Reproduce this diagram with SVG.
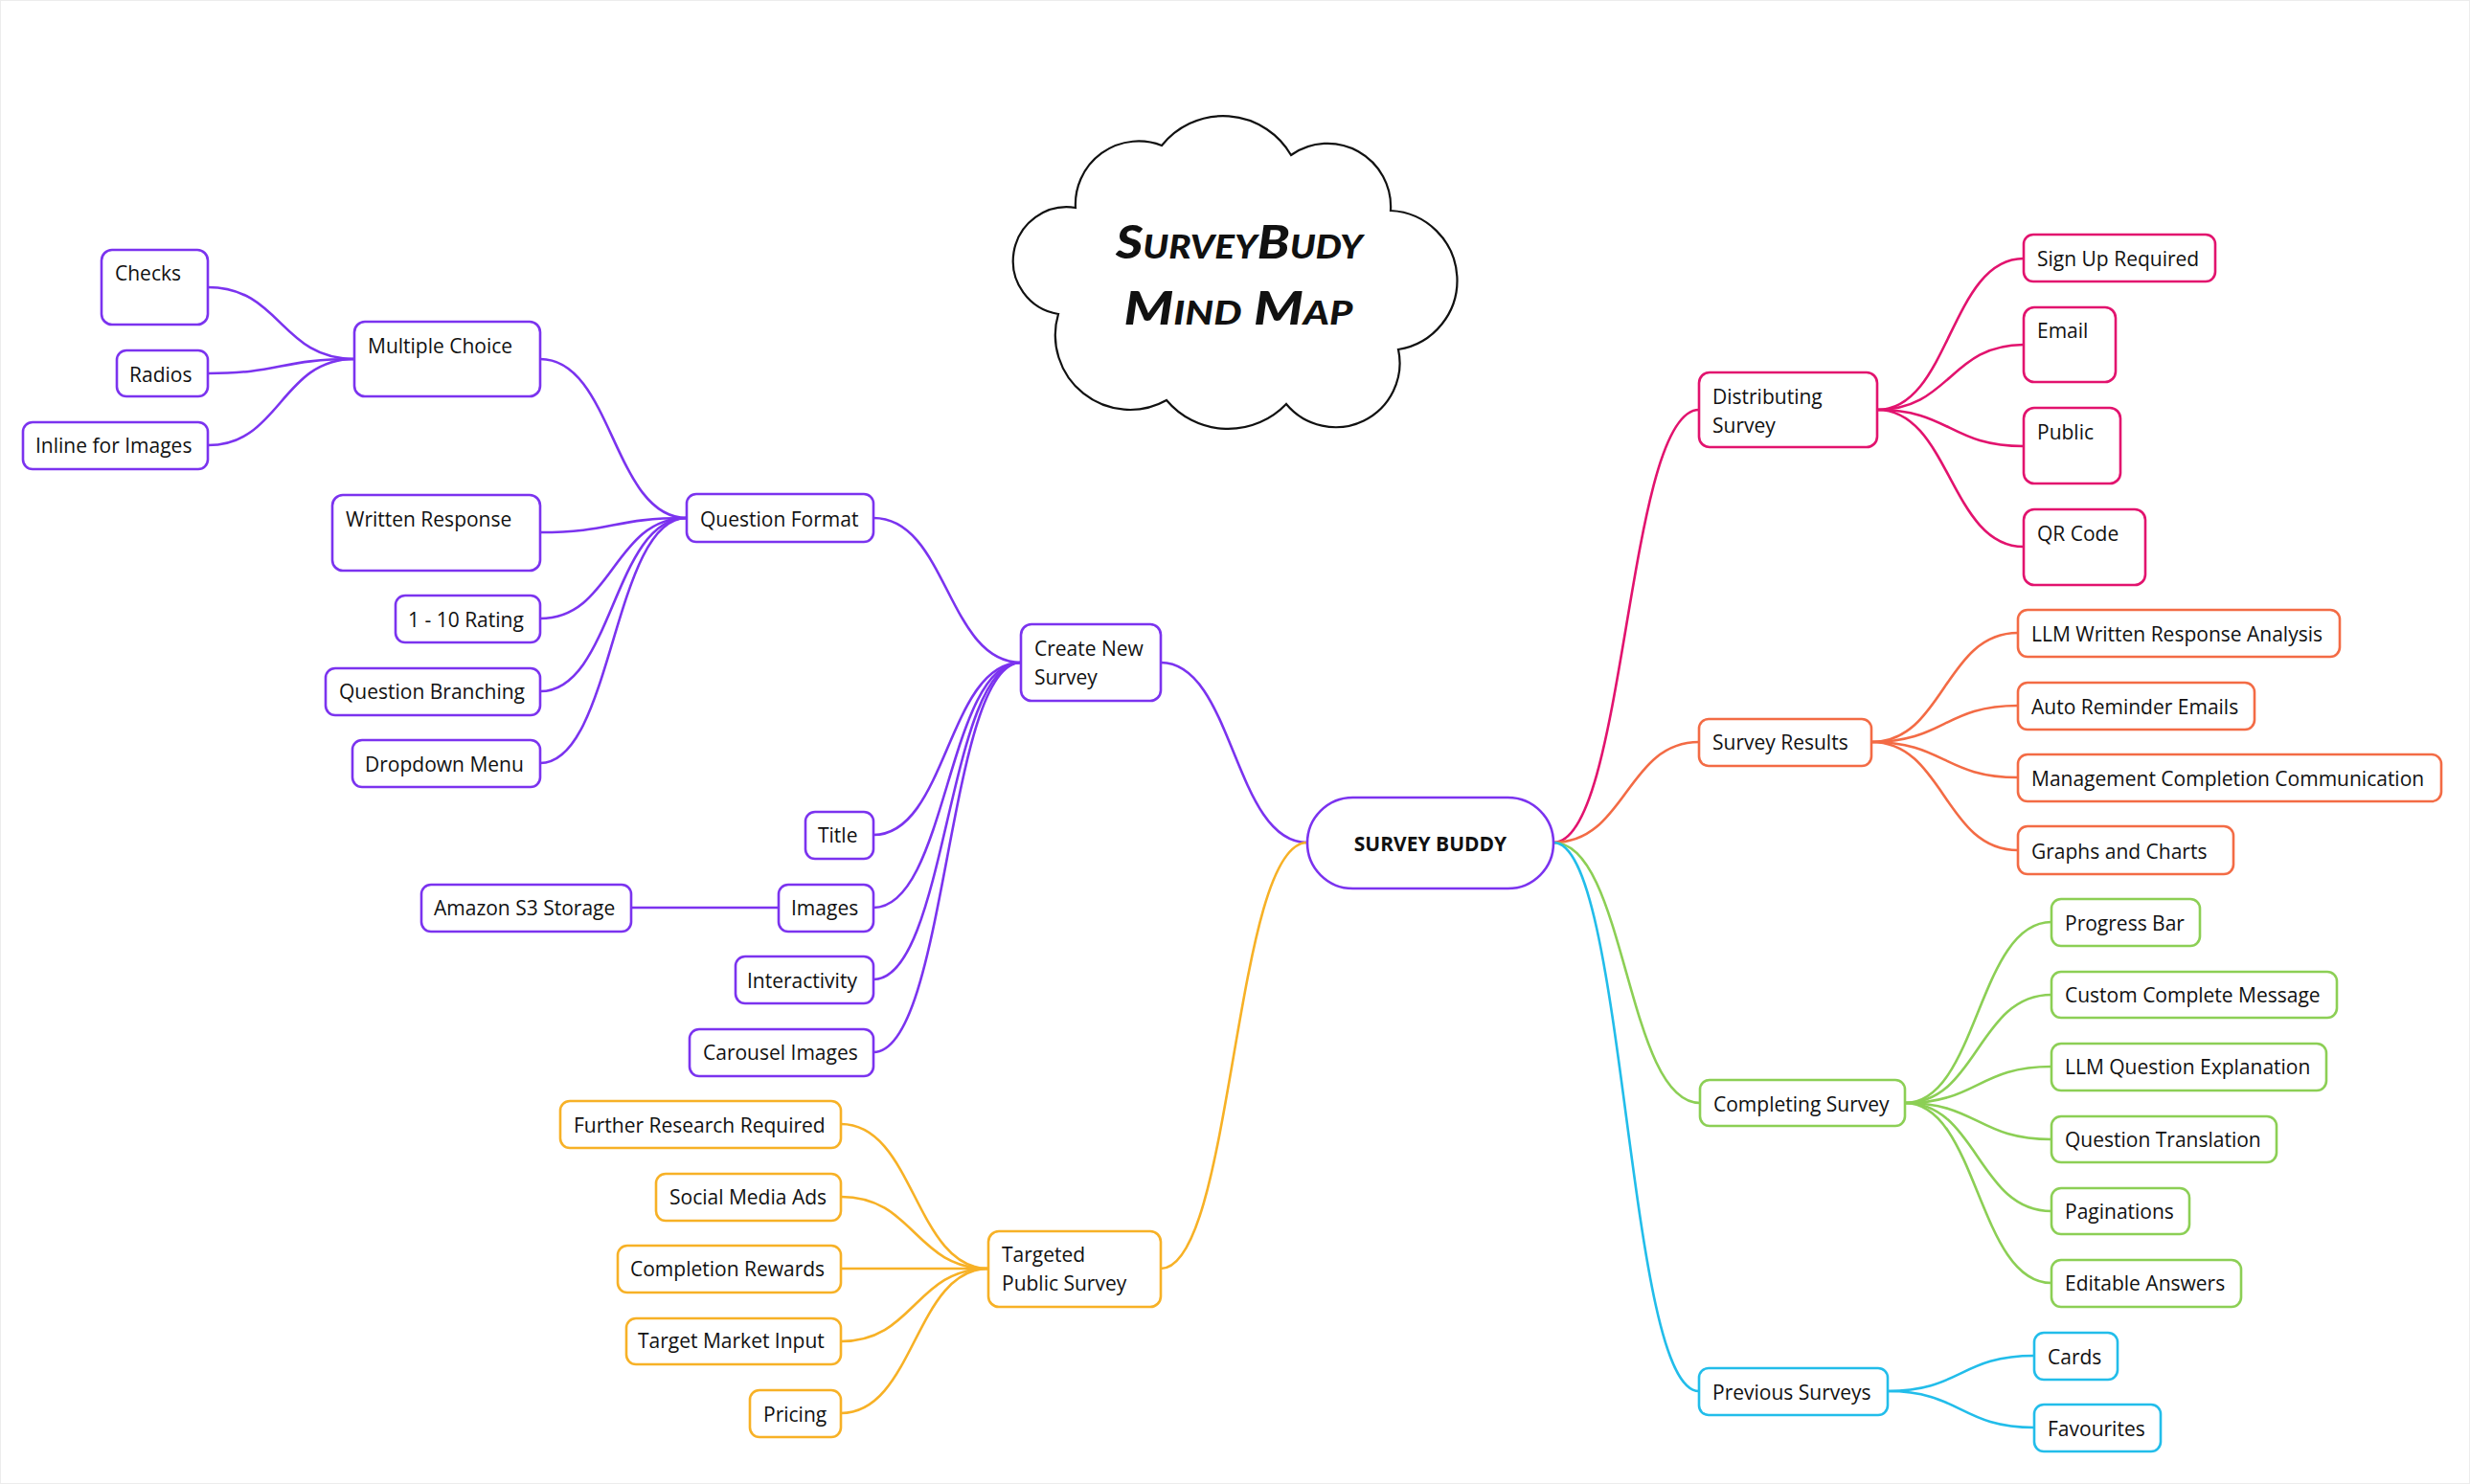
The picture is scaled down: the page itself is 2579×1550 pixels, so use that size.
<svg xmlns="http://www.w3.org/2000/svg" width="2579" height="1550" viewBox="0 0 2579 1550">
<style>
text{font-family:"Open Sans","Liberation Sans",sans-serif;font-size:21px;fill:#111111}
.hubt{font-weight:700;text-anchor:middle}
.title{font-family:"Lato","DejaVu Sans",sans-serif;font-weight:900;font-style:italic;font-variant:small-caps;font-size:48px;text-anchor:middle;fill:#111}
rect{fill:#ffffff;stroke-width:2.6}
.conn path{fill:none;stroke-width:2.6}
.pu rect,rect.pu{stroke:#7b33ef}
.am rect{stroke:#f7b126}
.pk rect{stroke:#e2136e}
.co rect{stroke:#f36b45}
.gr rect{stroke:#8ccf55}
.cy rect{stroke:#22bdea}
.conn .pu{stroke:#7b33ef}
.conn .am{stroke:#f7b126}
.conn .pk{stroke:#e2136e}
.conn .co{stroke:#f36b45}
.conn .gr{stroke:#8ccf55}
.conn .cy{stroke:#22bdea}
</style>
<rect x="0.5" y="0.5" width="2578" height="1549" style="fill:#ffffff;stroke:#ececec;stroke-width:1"/>

<g id="cloud">
<path d="M1213,152 A82,82 0 0 1 1348,162 A66,66 0 0 1 1452,220 A73,73 0 0 1 1460,365 A67,67 0 0 1 1343,422 A84,84 0 0 1 1218,418 A78,78 0 0 1 1105,328 A56,56 0 0 1 1123,217 A66,66 0 0 1 1213,152 Z" fill="#ffffff" stroke="#111111" stroke-width="2.2"/>
<text class="title" x="1294" y="270" textLength="258" lengthAdjust="spacingAndGlyphs">SurveyBudy</text>
<text class="title" x="1293" y="339" textLength="239" lengthAdjust="spacingAndGlyphs">Mind Map</text>
</g>

<g id="connectors" class="conn">
<path class="pu" d="M1365,880 C1288,880 1288,692 1212,692"/>
<path class="pu" d="M1066,692 C989,692 989,541 912,541"/>
<path class="pu" d="M1066,692 C989,692 989,872 912,872"/>
<path class="pu" d="M1066,692 C989,692 989,948 912,948"/>
<path class="pu" d="M1066,692 C989,692 989,1023 912,1023"/>
<path class="pu" d="M1066,692 C989,692 989,1099 912,1099"/>
<path class="pu" d="M717,541 C640,541 640,375 564,375"/>
<path class="pu" d="M717,541 C640,541 640,556 564,556"/>
<path class="pu" d="M717,541 C640,541 640,646 564,646"/>
<path class="pu" d="M717,541 C640,541 640,722 564,722"/>
<path class="pu" d="M717,541 C640,541 640,797 564,797"/>
<path class="pu" d="M370,375 C293,375 293,300 217,300"/>
<path class="pu" d="M370,375 C293,375 293,390 217,390"/>
<path class="pu" d="M370,375 C293,375 293,465 217,465"/>
<path class="pu" d="M813,948 L659,948"/>
<path class="am" d="M1365,880 C1288,880 1288,1325 1212,1325"/>
<path class="am" d="M1032,1325 C955,1325 955,1174 878,1174"/>
<path class="am" d="M1032,1325 C955,1325 955,1250 878,1250"/>
<path class="am" d="M1032,1325 C955,1325 955,1325 878,1325"/>
<path class="am" d="M1032,1325 C955,1325 955,1401 878,1401"/>
<path class="am" d="M1032,1325 C955,1325 955,1476 878,1476"/>
<path class="pk" d="M1622,880 C1698,880 1698,428 1774,428"/>
<path class="pk" d="M1960,428 C2036,428 2036,270 2113,270"/>
<path class="pk" d="M1960,428 C2036,428 2036,360 2113,360"/>
<path class="pk" d="M1960,428 C2036,428 2036,466 2113,466"/>
<path class="pk" d="M1960,428 C2036,428 2036,571 2113,571"/>
<path class="co" d="M1622,880 C1698,880 1698,775 1774,775"/>
<path class="co" d="M1954,775 C2030,775 2030,661 2107,661"/>
<path class="co" d="M1954,775 C2030,775 2030,737 2107,737"/>
<path class="co" d="M1954,775 C2030,775 2030,812 2107,812"/>
<path class="co" d="M1954,775 C2030,775 2030,888 2107,888"/>
<path class="gr" d="M1622,880 C1698,880 1698,1152 1775,1152"/>
<path class="gr" d="M1989,1152 C2065,1152 2065,963 2142,963"/>
<path class="gr" d="M1989,1152 C2065,1152 2065,1039 2142,1039"/>
<path class="gr" d="M1989,1152 C2065,1152 2065,1114 2142,1114"/>
<path class="gr" d="M1989,1152 C2065,1152 2065,1190 2142,1190"/>
<path class="gr" d="M1989,1152 C2065,1152 2065,1265 2142,1265"/>
<path class="gr" d="M1989,1152 C2065,1152 2065,1340 2142,1340"/>
<path class="cy" d="M1622,880 C1698,880 1698,1453 1774,1453"/>
<path class="cy" d="M1971,1453 C2047,1453 2047,1416 2124,1416"/>
<path class="cy" d="M1971,1453 C2047,1453 2047,1491 2124,1491"/>
</g>

<g id="hub" class="pu"><rect x="1365" y="833" width="257" height="95" rx="47.5"/><text class="hubt" x="1493.5" y="889">SURVEY BUDDY</text></g>

<g id="create-new-survey" class="pu"><rect x="1066" y="652" width="146" height="80" rx="11"/><text x="1080" y="685">Create New</text><text x="1080" y="715">Survey</text></g>
<g id="question-format" class="pu"><rect x="717" y="516" width="195" height="50" rx="10"/><text x="731" y="550">Question Format</text></g>
<g id="multiple-choice" class="pu"><rect x="370" y="336" width="194" height="78" rx="11"/><text x="384" y="369">Multiple Choice</text></g>
<g id="checks" class="pu"><rect x="106" y="261" width="111" height="78" rx="11"/><text x="120" y="293">Checks</text></g>
<g id="radios" class="pu"><rect x="122" y="366" width="95" height="48" rx="10"/><text x="135" y="399">Radios</text></g>
<g id="inline-for-images" class="pu"><rect x="24" y="441" width="193" height="49" rx="10"/><text x="37" y="473">Inline for Images</text></g>
<g id="written-response" class="pu"><rect x="347" y="517" width="217" height="79" rx="11"/><text x="361" y="550">Written Response</text></g>
<g id="rating" class="pu"><rect x="413" y="622" width="151" height="49" rx="10"/><text x="426" y="655">1 - 10 Rating</text></g>
<g id="question-branching" class="pu"><rect x="340" y="698" width="224" height="49" rx="10"/><text x="354" y="730">Question Branching</text></g>
<g id="dropdown-menu" class="pu"><rect x="368" y="773" width="196" height="49" rx="10"/><text x="381" y="806">Dropdown Menu</text></g>
<g id="title" class="pu"><rect x="841" y="848" width="71" height="49" rx="10"/><text x="854" y="880">Title</text></g>
<g id="images" class="pu"><rect x="813" y="924" width="99" height="49" rx="10"/><text x="826" y="956">Images</text></g>
<g id="amazon-s3" class="pu"><rect x="440" y="924" width="219" height="49" rx="10"/><text x="453" y="956">Amazon S3 Storage</text></g>
<g id="interactivity" class="pu"><rect x="768" y="999" width="144" height="49" rx="10"/><text x="780" y="1032">Interactivity</text></g>
<g id="carousel-images" class="pu"><rect x="720" y="1075" width="192" height="49" rx="10"/><text x="734" y="1107">Carousel Images</text></g>

<g id="targeted-public-survey" class="am"><rect x="1032" y="1286" width="180" height="79" rx="11"/><text x="1046" y="1318">Targeted</text><text x="1046" y="1348">Public Survey</text></g>
<g id="further-research" class="am"><rect x="585" y="1150" width="293" height="49" rx="10"/><text x="599" y="1183">Further Research Required</text></g>
<g id="social-media-ads" class="am"><rect x="685" y="1226" width="193" height="49" rx="10"/><text x="699" y="1258">Social Media Ads</text></g>
<g id="completion-rewards" class="am"><rect x="645" y="1301" width="233" height="49" rx="10"/><text x="658" y="1333">Completion Rewards</text></g>
<g id="target-market-input" class="am"><rect x="654" y="1377" width="224" height="48" rx="10"/><text x="666" y="1408">Target Market Input</text></g>
<g id="pricing" class="am"><rect x="783" y="1452" width="95" height="49" rx="10"/><text x="797" y="1485">Pricing</text></g>

<g id="distributing-survey" class="pk"><rect x="1774" y="389" width="186" height="78" rx="11"/><text x="1788" y="422">Distributing</text><text x="1788" y="452">Survey</text></g>
<g id="sign-up-required" class="pk"><rect x="2113" y="245" width="200" height="49" rx="10"/><text x="2127" y="278">Sign Up Required</text></g>
<g id="email" class="pk"><rect x="2113" y="321" width="96" height="78" rx="11"/><text x="2127" y="353">Email</text></g>
<g id="public" class="pk"><rect x="2113" y="426" width="101" height="79" rx="11"/><text x="2127" y="459">Public</text></g>
<g id="qr-code" class="pk"><rect x="2113" y="532" width="127" height="79" rx="11"/><text x="2127" y="565">QR Code</text></g>

<g id="survey-results" class="co"><rect x="1774" y="751" width="180" height="49" rx="10"/><text x="1788" y="783">Survey Results</text></g>
<g id="llm-written-response" class="co"><rect x="2107" y="637" width="336" height="49" rx="10"/><text x="2121" y="670">LLM Written Response Analysis</text></g>
<g id="auto-reminder-emails" class="co"><rect x="2107" y="713" width="247" height="49" rx="10"/><text x="2121" y="746">Auto Reminder Emails</text></g>
<g id="management-completion" class="co"><rect x="2107" y="788" width="442" height="49" rx="10"/><text x="2121" y="821">Management Completion Communication</text></g>
<g id="graphs-and-charts" class="co"><rect x="2107" y="863" width="225" height="50" rx="10"/><text x="2121" y="897">Graphs and Charts</text></g>

<g id="completing-survey" class="gr"><rect x="1775" y="1128" width="214" height="48" rx="10"/><text x="1789" y="1161">Completing Survey</text></g>
<g id="progress-bar" class="gr"><rect x="2142" y="939" width="155" height="49" rx="10"/><text x="2156" y="972">Progress Bar</text></g>
<g id="custom-complete-message" class="gr"><rect x="2142" y="1015" width="298" height="48" rx="10"/><text x="2156" y="1047">Custom Complete Message</text></g>
<g id="llm-question-explanation" class="gr"><rect x="2142" y="1090" width="287" height="49" rx="10"/><text x="2156" y="1122">LLM Question Explanation</text></g>
<g id="question-translation" class="gr"><rect x="2142" y="1166" width="235" height="48" rx="10"/><text x="2156" y="1198">Question Translation</text></g>
<g id="paginations" class="gr"><rect x="2142" y="1241" width="144" height="48" rx="10"/><text x="2156" y="1273">Paginations</text></g>
<g id="editable-answers" class="gr"><rect x="2142" y="1316" width="198" height="49" rx="10"/><text x="2156" y="1348">Editable Answers</text></g>

<g id="previous-surveys" class="cy"><rect x="1774" y="1429" width="197" height="49" rx="10"/><text x="1788" y="1462">Previous Surveys</text></g>
<g id="cards" class="cy"><rect x="2124" y="1392" width="87" height="49" rx="10"/><text x="2138" y="1425">Cards</text></g>
<g id="favourites" class="cy"><rect x="2124" y="1467" width="132" height="49" rx="10"/><text x="2138" y="1500">Favourites</text></g>
</svg>
